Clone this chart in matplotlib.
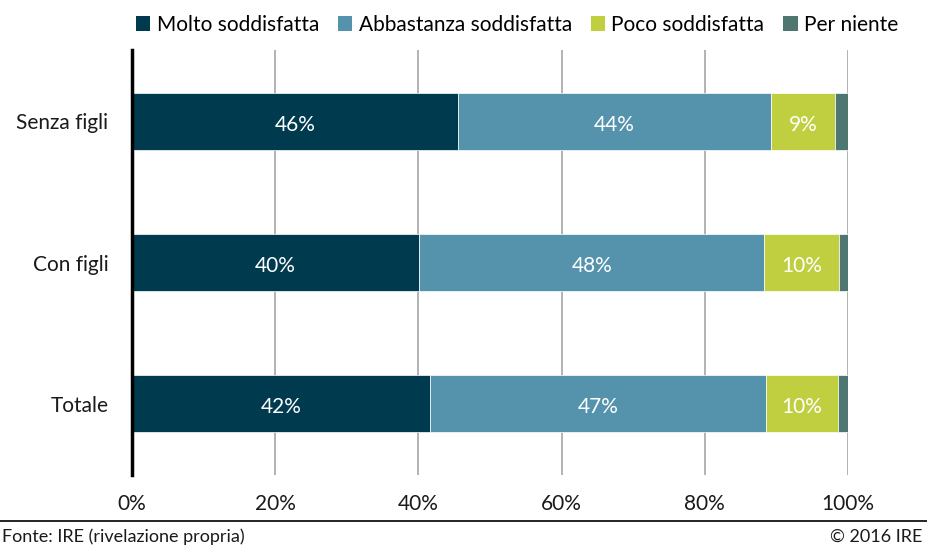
import matplotlib
matplotlib.use("Agg")
import matplotlib.pyplot as plt
from matplotlib.patches import Patch
from matplotlib.lines import Line2D

plt.rcParams['font.family'] = ['Lato', 'DejaVu Sans']

categories = ["Senza figli", "Con figli", "Totale"]
series_names = ["Molto soddisfatta", "Abbastanza soddisfatta", "Poco soddisfatta", "Per niente"]
molto = [45.6, 40.1, 41.6]
abbastanza = [43.6, 48.2, 46.9]
poco = [9.0, 10.4, 10.1]
per_niente = [1.8, 1.3, 1.4]
series = [molto, abbastanza, poco, per_niente]
bar_labels = [["46%", "44%", "9%", ""], ["40%", "48%", "10%", ""], ["42%", "47%", "10%", ""]]
colors = ["#003a4f", "#5593ad", "#bfcf40", "#4f7771"]
xticks = [0, 20, 40, 60, 80, 100]
xticklabels = ["0%", "20%", "40%", "60%", "80%", "100%"]

fig = plt.figure(figsize=(9.27, 5.47), dpi=100)
ax = fig.add_axes([132/927, 1-475/547, (848-132)/927, (475-50)/547])

ypos = list(range(len(categories)))
left = [0.0]*len(categories)
for si, vals in enumerate(series):
    bars = ax.barh(ypos, vals, left=left, height=0.40, color=colors[si],
                   edgecolor="white", linewidth=0.5, zorder=3)
    for ci, b in enumerate(bars):
        lab = bar_labels[ci][si]
        if lab:
            ax.text(left[ci] + vals[ci]/2, ypos[ci] + 0.025, lab, ha="center", va="center",
                    color="white", fontsize=15, zorder=4)
    left = [l + v for l, v in zip(left, vals)]

ax.set_xlim(0, 100)
ax.set_ylim(2.505, -0.505)
ax.set_yticks(ypos)
ax.set_yticklabels(categories, fontsize=15)
ax.set_xticks(xticks)
ax.set_xticklabels(xticklabels, fontsize=15)
ax.tick_params(axis="both", length=0, colors="#1a1a1a")
ax.tick_params(axis="y", pad=17)
ax.tick_params(axis="x", pad=14)
ax.grid(axis="x", color="#a6a6a6", linewidth=1.2, zorder=0)
for s in ["top", "right", "bottom"]:
    ax.spines[s].set_visible(False)
ax.spines["left"].set_color("black")
ax.spines["left"].set_linewidth(2.5)
ax.spines["left"].set_zorder(5)

handles = [Patch(facecolor=c, edgecolor="none") for c in colors]
fig.legend(handles, series_names, loc="center", bbox_to_anchor=(517/927, 1-25/547),
           ncol=4, frameon=False, fontsize=15, handlelength=0.7, handleheight=0.7,
           handletextpad=0.3, columnspacing=0.9)

fig.add_artist(Line2D([0, 1], [1-521/547, 1-521/547], color="black", linewidth=1.2,
                      transform=fig.transFigure))
fig.text(2/927, 1-537/547, "Fonte: IRE (rivelazione propria)", ha="left", va="center",
         fontsize=13, color="#1a1a1a")
fig.text(922/927, 1-537/547, "© 2016 IRE", ha="right", va="center",
         fontsize=13, color="#1a1a1a")

fig.savefig("out.png", dpi=100)
